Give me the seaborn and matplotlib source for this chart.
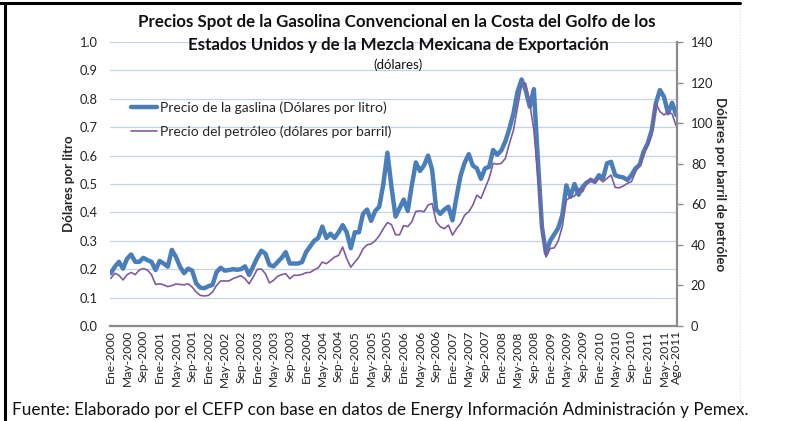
import matplotlib
matplotlib.use('Agg')
import matplotlib.pyplot as plt
import numpy as np
import pandas as pd
import seaborn as sns
from matplotlib.lines import Line2D

# meses Ene-2000 ... Ago-2011
meses = ['Ene', 'Feb', 'Mar', 'Abr', 'May', 'Jun', 'Jul', 'Ago', 'Sep', 'Oct', 'Nov', 'Dic']
periodos = [f'{m}-{a}' for a in range(2000, 2012) for m in meses][:140]

# precio de la gasolina (dolares por litro)
gasolina = [
    0.186, 0.209, 0.226, 0.202, 0.237, 0.252, 0.226, 0.226, 0.240, 0.232, 0.226, 0.197,
    0.229, 0.220, 0.209, 0.268, 0.244, 0.209, 0.186, 0.202, 0.195, 0.150, 0.135, 0.133,
    0.140, 0.145, 0.190, 0.205, 0.195, 0.197, 0.200, 0.198, 0.200, 0.210, 0.180, 0.210,
    0.240, 0.265, 0.255, 0.215, 0.210, 0.225, 0.240, 0.260, 0.220, 0.220, 0.220, 0.225,
    0.260, 0.280, 0.300, 0.310, 0.350, 0.310, 0.325, 0.310, 0.330, 0.355, 0.330, 0.274,
    0.330, 0.330, 0.395, 0.410, 0.370, 0.405, 0.420, 0.500, 0.610, 0.490, 0.385, 0.415,
    0.445, 0.405, 0.495, 0.576, 0.546, 0.565, 0.600, 0.550, 0.410, 0.395, 0.410, 0.420,
    0.372, 0.455, 0.530, 0.575, 0.605, 0.565, 0.555, 0.518, 0.555, 0.560, 0.620, 0.603,
    0.618, 0.650, 0.695, 0.749, 0.825, 0.868, 0.830, 0.772, 0.834, 0.584, 0.349, 0.255,
    0.300, 0.322, 0.345, 0.390, 0.495, 0.455, 0.500, 0.462, 0.490, 0.505, 0.514, 0.508,
    0.531, 0.520, 0.573, 0.578, 0.531, 0.526, 0.523, 0.514, 0.531, 0.555, 0.567, 0.614,
    0.643, 0.690, 0.784, 0.831, 0.807, 0.749, 0.786, 0.743,
]

# precio del petroleo (dolares por barril)
petroleo = [
    23.5, 26.0, 25.0, 22.7, 25.3, 26.4, 25.3, 27.6, 28.3, 27.6, 25.3, 20.5,
    20.8, 20.3, 19.4, 19.9, 20.7, 20.5, 20.3, 20.8, 19.2, 16.7, 15.1, 14.8,
    15.1, 16.7, 20.0, 22.2, 22.2, 22.2, 23.3, 24.1, 24.8, 23.3, 20.8, 24.1,
    27.9, 28.1, 25.8, 21.2, 22.5, 24.5, 25.3, 25.8, 23.3, 25.0, 25.0, 25.4,
    26.3, 26.4, 27.7, 28.7, 31.5, 30.7, 32.3, 34.0, 34.8, 38.9, 33.2, 29.0,
    31.5, 34.0, 38.0, 40.0, 40.5, 42.0, 44.5, 48.0, 51.0, 50.0, 45.0, 45.0,
    49.5, 49.0, 51.4, 56.5, 56.8, 56.3, 59.6, 60.4, 51.4, 48.9, 48.0, 49.7,
    44.8, 48.0, 50.5, 54.7, 56.3, 59.6, 64.5, 62.9, 67.8, 72.8, 80.2, 79.8,
    80.2, 82.6, 90.0, 96.6, 108.0, 118.8, 119.7, 109.8, 96.6, 73.6, 48.9, 34.0,
    38.2, 38.5, 42.0, 49.0, 62.0, 63.5, 64.0, 67.8, 66.2, 70.5, 72.8, 70.3,
    72.8, 71.1, 72.8, 74.4, 68.3, 68.1, 69.0, 70.3, 71.1, 76.0, 79.3, 84.3,
    89.2, 94.2, 109.8, 105.7, 104.0, 105.7, 104.5, 98.6,
]

df = pd.DataFrame({'idx': np.arange(len(periodos)), 'periodo': periodos,
                   'gasolina': gasolina, 'petroleo': petroleo})

sns.set_theme(style='white')
plt.rcParams['font.family'] = ['Lato', 'DejaVu Sans']

W, H = 792, 421
fig = plt.figure(figsize=(W / 100, H / 100), dpi=100)
ax = fig.add_axes([110 / W, 1 - 326 / H, (677 - 110) / W, (326 - 42) / H])

azul = '#4A7EBB'
morado = '#7E5C9E'
gris = '#8C8C8C'

sns.lineplot(data=df, x='idx', y='gasolina', ax=ax, color=azul, linewidth=3.2)
ax2 = ax.twinx()
sns.lineplot(data=df, x='idx', y='petroleo', ax=ax2, color=morado, linewidth=1.2)

# ejes
ax.set_xlim(-0.2, 139.2)
ax.set_ylim(0, 1.0)
ax2.set_ylim(0, 140)
ax.set_yticks(np.arange(0, 1.01, 0.1))
ax.set_yticklabels([f'{v:.1f}' for v in np.arange(0, 1.01, 0.1)])
ax2.set_yticks(range(0, 141, 20))
ax.yaxis.grid(True, color='#C6D2E8', linewidth=0.9)
ax.xaxis.grid(False)
ax2.grid(False)

for s in ['left', 'top', 'right']:
    ax.spines[s].set_visible(False)
ax.spines['bottom'].set_color(gris)
ax.spines['bottom'].set_linewidth(1.6)
for s in ['left', 'top', 'bottom']:
    ax2.spines[s].set_visible(False)
ax2.spines['right'].set_color(gris)
ax2.spines['right'].set_linewidth(1.6)

pos = list(range(0, 140, 4)) + [139]
ax.set_xticks(pos)
ax.set_xticklabels([periodos[i] for i in pos], rotation=90, fontsize=8.7, color='#222222')
ax.tick_params(axis='x', length=0, pad=3)
ax.tick_params(axis='y', length=0, pad=9, labelsize=9.3, labelcolor='#222222')
ax2.tick_params(axis='y', which='major', direction='out', length=4, width=1,
                color=gris, pad=6, labelsize=9.3, labelcolor='#222222')

ax.set_xlabel('')
ax.set_ylabel('Dólares por litro', fontsize=9.5, fontweight='bold')
ax.yaxis.set_label_coords(-0.062, 0.5)
ax2.set_ylabel('Dólares por barril de petróleo', fontsize=9.5, fontweight='bold',
               rotation=270, va='center')
ax2.yaxis.set_label_coords(1.076, 0.5)

# leyenda
handles = [Line2D([], [], color=azul, linewidth=3.2),
           Line2D([], [], color=morado, linewidth=1.2)]
labels = ['Precio de la gaslina (Dólares por litro)',
          'Precio del petróleo (dólares por barril)']
ax2.legend(handles, labels, loc='upper left', bbox_to_anchor=(0.02, 0.825),
           frameon=False, fontsize=10, handlelength=1.9, handletextpad=0.2,
           labelspacing=0.85, borderpad=0.2)

# titulo
fig.text(397 / W, 1 - 22 / H,
         'Precios Spot de la Gasolina Convencional en la Costa del Golfo de los',
         ha='center', va='center', fontsize=12.2, fontweight='bold', color='#111111')
fig.text(398 / W, 1 - 45 / H, 'Estados Unidos y de la Mezcla Mexicana de Exportación',
         ha='center', va='center', fontsize=12.2, fontweight='bold', color='#111111')
fig.text(398 / W, 1 - 65 / H, '(dólares)', ha='center', va='center', fontsize=9.5,
         color='#111111')

fig.text(12 / W, 1 - 410 / H,
         'Fuente: Elaborado por el CEFP con base en datos de Energy Información Administración y Pemex.',
         ha='left', va='center', fontsize=12.3, color='#111111')

# marco
fig.add_artist(Line2D([0, 740 / W], [1 - 3 / H, 1 - 3 / H], color='black', linewidth=2.2))
fig.add_artist(Line2D([5 / W, 5 / W], [0, 1 - 3 / H], color='black', linewidth=2.2))
fig.add_artist(Line2D([740 / W, 740 / W], [0, 1 - 3 / H], color='#DDDDDD',
                      linewidth=0.8, linestyle=':'))

fig.savefig('out.png', dpi=100)
